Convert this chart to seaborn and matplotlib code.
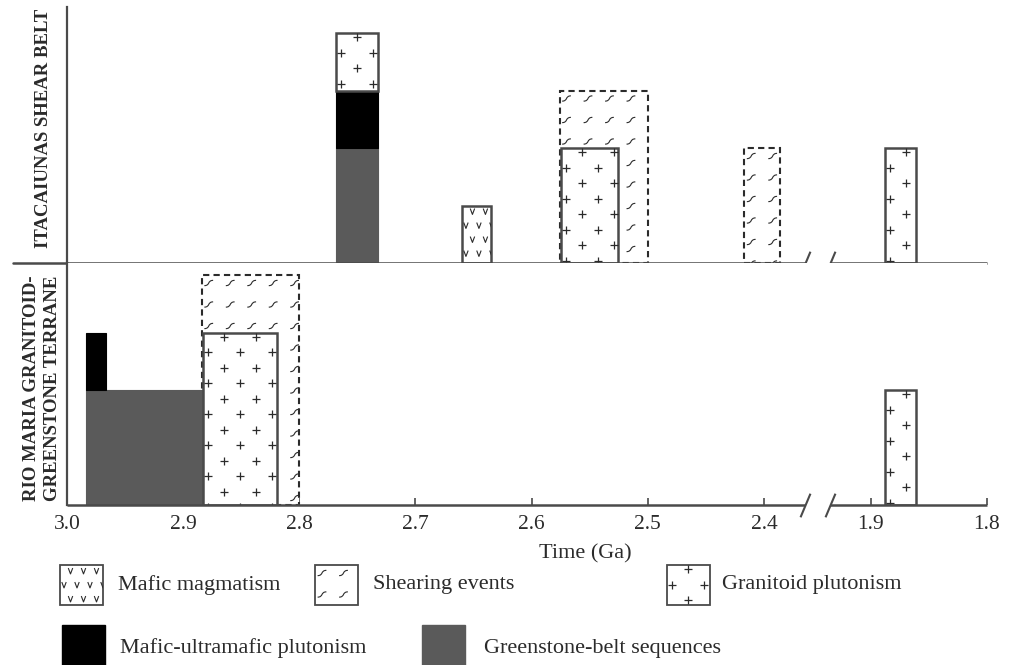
import numpy as np
import matplotlib
matplotlib.use("Agg")
import matplotlib.pyplot as plt
import seaborn as sns
from matplotlib.path import Path
from matplotlib.patches import Rectangle

# ---- data: (older age Ga, younger age Ga, bottom level, top level) ----
ITA_GREENSTONE = [(2.768, 2.732, 0, 2)]
ITA_MAFIC_ULTRA = [(2.768, 2.732, 2, 3)]
ITA_GRANITOID = [(2.768, 2.732, 3, 4), (2.575, 2.526, 0, 2), (1.888, 1.861, 0, 2)]
ITA_MAFIC_MAG = [(2.660, 2.635, 0, 1)]
ITA_SHEAR = [(2.576, 2.500, 0, 3), (2.417, 2.386, 0, 2)]

RM_GREENSTONE = [(2.984, 2.883, 0, 2)]
RM_MAFIC_ULTRA = [(2.984, 2.966, 2, 3)]
RM_GRANITOID = [(2.883, 2.819, 0, 3), (1.888, 1.861, 0, 2)]
RM_SHEAR = [(2.884, 2.800, 0, 4)]

TICKS = [3.0, 2.9, 2.8, 2.7, 2.6, 2.5, 2.4, 1.9, 1.8]
TICK_LABELS = ["3.0", "2.9", "2.8", "2.7", "2.6", "2.5", "2.4", "1.9", "1.8"]
PANEL_LABELS = ["ITACAIUNAS SHEAR BELT", "RIO MARIA GRANITOID-\nGREENSTONE TERRANE"]
LEGEND_ROW1 = ["Mafic magmatism", "Shearing events", "Granitoid plutonism"]
LEGEND_ROW2 = ["Mafic-ultramafic plutonism", "Greenstone-belt sequences"]

# axis break (Ga) and its compressed width in scale units
BREAK_OLD, BREAK_YOUNG, BREAK_GAP = 2.365, 1.935, 0.022

sns.set_theme(style="white")
plt.rcParams["font.family"] = ["Liberation Serif", "DejaVu Serif"]

INK = "#2b2b2b"
LINE = "#4a4a4a"
GREY = "#5a5a5a"

PX_GA = 0.1 / 116.3      # Ga per pixel
UNIT_PX = 57.5           # pixels per level


def fwd(t):
    t = np.asarray(t, dtype=float)
    slope = BREAK_GAP / (BREAK_OLD - BREAK_YOUNG)
    mid = (BREAK_YOUNG - 1.8) + (t - BREAK_YOUNG) * slope
    return np.where(t >= BREAK_OLD, t - BREAK_OLD + (BREAK_YOUNG - 1.8) + BREAK_GAP,
                    np.where(t <= BREAK_YOUNG, t - 1.8, mid))


def inv(s):
    s = np.asarray(s, dtype=float)
    s1 = BREAK_YOUNG - 1.8
    s2 = s1 + BREAK_GAP
    slope = BREAK_GAP / (BREAK_OLD - BREAK_YOUNG)
    return np.where(s >= s2, s - s2 + BREAK_OLD,
                    np.where(s <= s1, s + 1.8, BREAK_YOUNG + (s - s1) / slope))


V_MARK = Path([(-0.6, 0.8), (0, -0.8), (0.6, 0.8)],
              [Path.MOVETO, Path.LINETO, Path.LINETO])
SHEAR_MARK = Path([(-1, -0.6), (0.35, -0.6), (-0.35, 0.6), (1, 0.6)],
                  [Path.MOVETO, Path.CURVE4, Path.CURVE4, Path.CURVE4])

STYLES = {
    "granitoid": dict(marker="+", dx=32, dy=15.5, shift=16, off=5, top=4, s=34, lw=0.9),
    "mafic": dict(marker=V_MARK, dx=13, dy=14, shift=6.5, off=4, top=6, s=18, lw=0.8),
    "shear": dict(marker=SHEAR_MARK, dx=21.5, dy=21.5, shift=0, off=7, top=8, s=40, lw=0.8),
}


def fill_symbols(ax, rect, x_left, width_px, y_top, height_px, x_per_px, y_per_px, kind):
    st = STYLES[kind]
    xs, ys = [], []
    nrows = int(height_px / st["dy"]) + 2
    for i in range(nrows):
        yp = st["top"] + i * st["dy"]
        if yp > height_px + 4:
            break
        o = st["off"] + ((i + 1) % 2) * st["shift"]
        k = 0
        while o + k * st["dx"] <= width_px + 4:
            xs.append(x_left + (o + k * st["dx"]) * x_per_px)
            ys.append(y_top - yp * y_per_px)
            k += 1
    if st["marker"] == "+":
        coll = ax.scatter(xs, ys, marker="+", s=st["s"], color=INK, linewidths=st["lw"],
                          zorder=rect.get_zorder() + 0.1, clip_on=True)
    else:
        coll = ax.scatter(xs, ys, marker=st["marker"], s=st["s"], facecolors="none",
                          edgecolors=INK, linewidths=st["lw"],
                          zorder=rect.get_zorder() + 0.1, clip_on=True)
    coll.set_clip_path(rect)


def draw_spans(ax, spans, kind, z):
    for t0, t1, y0, y1 in spans:
        if kind == "greenstone":
            kw = dict(color=GREY, edgecolor=GREY, linewidth=0.8)
        elif kind == "ultra":
            kw = dict(color="black", edgecolor="black", linewidth=0.8)
        elif kind == "shear":
            kw = dict(color="white", edgecolor=INK, linewidth=1.5, linestyle=(0, (3, 2)))
        else:
            kw = dict(color="white", edgecolor=LINE, linewidth=1.8)
        bars = ax.bar(t0, y1 - y0, width=t1 - t0, bottom=y0, align="edge", zorder=z, **kw)
        rect = bars.patches[0]
        if kind in STYLES:
            fill_symbols(ax, rect, t0, (t0 - t1) / PX_GA, y1, (y1 - y0) * UNIT_PX,
                         -PX_GA, 1 / UNIT_PX, kind)


fig = plt.figure(figsize=(10.13, 6.65), dpi=100)
W, H = 1013, 665
ax_top = fig.add_axes([67 / W, 1 - 263 / H, 920 / W, 256 / H])
ax_bot = fig.add_axes([67 / W, 1 - 505 / H, 920 / W, 242 / H])

for ax, ytop in [(ax_top, 256 / UNIT_PX), (ax_bot, 242 / UNIT_PX)]:
    ax.set_xscale("function", functions=(fwd, inv))
    ax.set_facecolor("white")
    for side in ["top", "right", "bottom"]:
        ax.spines[side].set_visible(False)
    ax.spines["left"].set_color(LINE)
    ax.spines["left"].set_linewidth(1.6)
    ax.set_yticks([])

draw_spans(ax_top, ITA_SHEAR, "shear", 2)
draw_spans(ax_top, ITA_GREENSTONE, "greenstone", 3)
draw_spans(ax_top, ITA_MAFIC_ULTRA, "ultra", 3)
draw_spans(ax_top, ITA_GRANITOID, "granitoid", 4)
draw_spans(ax_top, ITA_MAFIC_MAG, "mafic", 4)

draw_spans(ax_bot, RM_SHEAR, "shear", 2)
draw_spans(ax_bot, RM_GREENSTONE, "greenstone", 3)
draw_spans(ax_bot, RM_MAFIC_ULTRA, "ultra", 3)
draw_spans(ax_bot, RM_GRANITOID, "granitoid", 4)

slash = [(-0.42, -1), (0.42, 1)]
for ax, ytop in [(ax_top, 256 / UNIT_PX), (ax_bot, 242 / UNIT_PX)]:
    ax.set_xlim(3.0, 1.8)
    ax.set_ylim(0, ytop)
    ax.plot([3.0, BREAK_OLD], [0, 0], color=LINE, lw=1.8, clip_on=False, zorder=6,
            solid_capstyle="butt")
    ax.plot([BREAK_YOUNG, 1.8], [0, 0], color=LINE, lw=1.8, clip_on=False, zorder=6,
            solid_capstyle="butt")
    ax.plot([BREAK_OLD, BREAK_YOUNG], [0, 0], linestyle="none", marker=slash,
            markersize=17, markeredgewidth=1.5, color=LINE, clip_on=False, zorder=6)

ax_top.set_xticks([])
ax_top.plot([-54 / 920, 0], [0, 0], transform=ax_top.transAxes, color=LINE, lw=1.8,
            clip_on=False)

ax_bot.set_xticks(TICKS)
ax_bot.set_xticklabels(TICK_LABELS)
ax_bot.tick_params(axis="x", direction="in", length=5, width=1.2, color=LINE,
                   pad=7, labelsize=15.5, labelcolor=INK, bottom=True)

fig.text(585 / W, 1 - 554 / H, "Time (Ga)", ha="center", va="center", fontsize=16, color=INK)
fig.text(43 / W, 1 - 128 / H, PANEL_LABELS[0], rotation=90, ha="center", va="center",
         fontsize=13.5, fontweight="bold", color=INK)
fig.text(42 / W, 1 - 388 / H, PANEL_LABELS[1], rotation=90, ha="center", va="center",
         multialignment="center", linespacing=1.25, fontsize=13.5, fontweight="bold",
         color=INK)

# ---- legend drawn in pixel coordinates ----
leg = fig.add_axes([0, 0, 1, 1], zorder=-1)
leg.set_xlim(0, W)
leg.set_ylim(H, 0)
leg.axis("off")

row1_boxes = [(60, "mafic"), (315, "shear"), (667, "granitoid")]
row1_text_x = [118, 373, 722]
for (x0, kind), label, tx in zip(row1_boxes, LEGEND_ROW1, row1_text_x):
    r = Rectangle((x0, 565), 43, 40, facecolor="white", edgecolor=LINE, lw=1.3, zorder=2)
    leg.add_patch(r)
    fill_symbols(leg, r, x0, 43, 565, 40, 1, -1, kind)
    leg.text(tx, 585, label, ha="left", va="center", fontsize=16, color=INK)

row2_boxes = [(62, "black"), (422, GREY)]
row2_text_x = [120, 484]
for (x0, col), label, tx in zip(row2_boxes, LEGEND_ROW2, row2_text_x):
    leg.add_patch(Rectangle((x0, 625), 43, 45, facecolor=col, edgecolor=col, zorder=2))
    leg.text(tx, 648, label, ha="left", va="center", fontsize=16, color=INK)

fig.savefig("out.png", dpi=100, facecolor="white")
